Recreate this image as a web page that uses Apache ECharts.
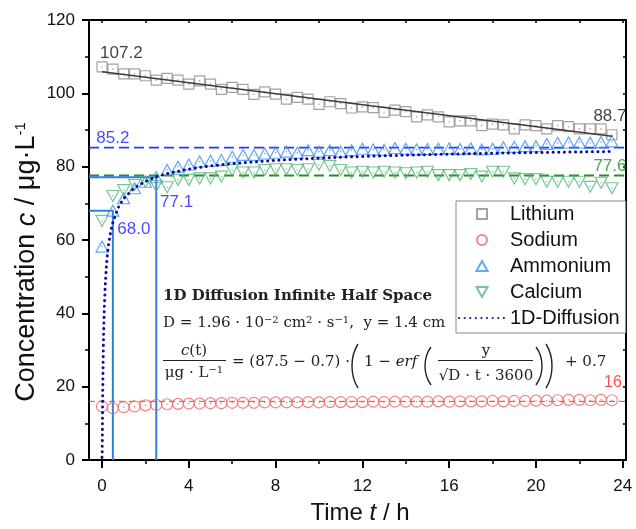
<!DOCTYPE html>
<html><head><meta charset="utf-8">
<script src="https://cdn.jsdelivr.net/npm/echarts@6/dist/echarts.min.js"></script>
<style>html,body{margin:0;padding:0;background:#fff}#c{width:636px;height:529px}</style>
</head><body><div id="c"></div>
<script>
// ---------- data ----------
const time = [0,0.5,1,1.5,2,2.5,3,3.5,4,4.5,5,5.5,6,6.5,7,7.5,8,8.5,9,9.5,10,10.5,11,11.5,
  12,12.5,13,13.5,14,14.5,15,15.5,16,16.5,17,17.5,18,18.5,19,19.5,20,20.5,21,21.5,22,22.5,23,23.5];
const lithium = [107.2,106.6,105.3,105.3,104.8,103.6,104.1,103.6,102.5,103.4,102.5,101.1,101.6,101.1,99.7,100.4,99.8,98.4,98.9,98.4,97.0,97.7,97.2,96.0,
  96.3,96.1,94.8,95.4,95.0,93.6,94.1,93.6,92.2,92.5,92.5,91.2,91.6,91.4,90.3,91.4,91.2,90.3,91.2,90.9,90.3,90.3,90.3,88.7];
const sodium = [14.6,14.1,14.4,14.6,14.9,15.0,15.2,15.3,15.4,15.4,15.5,15.5,15.6,15.6,15.6,15.7,15.7,15.7,15.7,15.8,15.7,15.8,15.8,15.8,
  15.8,15.9,15.8,15.9,15.9,15.9,15.9,16.0,15.9,16.0,16.0,16.0,16.1,16.0,16.1,16.1,16.2,16.2,16.3,16.4,16.4,16.3,16.4,16.3];
const ammonium = [58.2,68.0,71.4,74.1,75.9,77.1,79.1,80.0,80.6,81.4,81.6,81.8,82.7,83.2,83.2,83.6,83.8,84.1,83.8,84.5,84.1,84.5,84.1,84.5,
  84.9,84.7,84.6,85.1,84.9,84.7,84.8,84.9,85.0,84.8,85.0,84.7,84.9,85.3,85.4,85.6,85.6,86.2,86.5,86.6,86.6,86.5,86.7,86.9];
const calcium = [65.2,72.0,73.6,75.0,75.9,74.7,74.4,76.4,76.4,76.8,76.8,77.3,79.1,78.4,78.4,79.1,79.3,79.3,79.1,79.3,80.5,80.2,79.1,78.4,
  78.6,78.4,78.6,78.4,78.2,78.4,78.6,77.7,77.7,77.7,78.0,77.3,78.6,78.6,76.8,76.6,76.6,75.9,75.9,75.9,75.9,74.5,75.6,74.1];
const lithiumFitT = [0, 23.5];
const lithiumFitC = [105.9, 88.3];
const diffusionT = [0,0.005,0.01,0.015,0.02,0.03,0.04,0.05,0.075,0.1,0.15,0.2,0.25,0.3,0.4,0.5,0.75,1,1.5,2,2.5,3,4,5,6,8,10,12,14,16,18,20,22,23.5];
const diffusionC = [0.7,0.77,2.31,5.47,9.05,15.86,21.50,26.13,34.53,40.37,47.89,52.68,56.03,58.61,62.33,64.81,68.88,71.33,74.26,76.01,77.21,78.10,79.35,80.21,80.84,81.73,82.34,82.79,83.14,83.42,83.66,83.85,84.02,84.13];
const refAmmonium = 85.2, refCalcium = 77.6, refSodium = 16;
const markT = [0.5, 2.5];
const markC = [68.0, 77.1];
const xTicksMajor = [0,4,8,12,16,20,24];
const xTicksMinor = [2,6,10,14,18,22];
const xTicksTop = [0,2,4,6,8,10,12,14,16,18,20,22,24];
const annotText = ['107.2','88.7','85.2','77.6','68.0','77.1','16'];
const annotT = [0.89,23.41,0.50,23.41,1.47,3.44,23.55];
const annotC = [110.9,93.6,87.7,80.2,63.0,70.2,21.0];

// ---------- styles ----------
const xMin = -0.6, xMax = 24.15;
const SANS = '"Liberation Sans", Arial, sans-serif';
const SERIF = '"DejaVu Serif", serif';
const annotColor = ['#111','#111','#1a1aff','#1f8a1f','#1a1aff','#1a1aff','#ff2020'];
const annotSize = [17,17,17,17,17,17,16];
const SQ = 'path://M0,0 L10,0 L10,10 L0,10 Z';
const TRI_UP = 'path://M5,0 L10,9 L0,9 Z';
const TRI_DN = 'path://M0,0 L10,0 L5,9 Z';
const zip = (a,b) => a.map((v,i)=>[v,b[i]]);

const chart = echarts.init(document.getElementById('c'), null, {renderer:'canvas'});

function scatter(name, vals, symbol, size, color, z){
  return {name, type:'scatter', data: zip(time, vals), symbol, symbolSize:size,
    itemStyle:{color:'rgba(0,0,0,0)', borderColor:color, borderWidth:1.2}, z};
}
function dots(vals, color, z){
  return {type:'scatter', data: zip(time, vals), symbol:'circle', symbolSize:1.6, silent:true,
    itemStyle:{color}, z};
}
function hline(v, color, type, width){
  return {type:'line', data:[[xMin,v],[xMax,v]], symbol:'none', silent:true,
    lineStyle:{color, type, width}, z:3};
}
// thin math parenthesis drawn as a curve (left: dir=1, right: dir=-1)
function paren(x, top, bottom, dir){
  const w = 7, h = bottom - top;
  const outer = dir > 0 ? x + w : x;
  const inner = dir > 0 ? x - 1 : x + w + 1;
  return {type:'bezierCurve', z:10, shape:{x1:outer, y1:top, cpx1:inner, cpy1:top + h*0.28,
    cpx2:inner, cpy2:bottom - h*0.28, x2:outer, y2:bottom}, style:{stroke:'#222', lineWidth:1.4, fill:null}};
}

const option = {
  animation:false,
  grid:{left:89, top:20, width:537, height:440, containLabel:false},
  xAxis:[
    {type:'value', min:xMin, max:xMax, position:'bottom',
     axisLine:{show:true, onZero:false, lineStyle:{color:'#000', width:2}},
     axisTick:{show:true, customValues:xTicksMajor, length:8, lineStyle:{color:'#000', width:2}},
     axisLabel:{customValues:xTicksMajor, fontSize:17, fontFamily:SANS, color:'#111', margin:18},
     splitLine:{show:false}},
    {type:'value', min:xMin, max:xMax, position:'bottom',
     axisLine:{show:false, onZero:false},
     axisTick:{show:true, customValues:xTicksMinor, length:4, lineStyle:{color:'#000', width:1.5}},
     axisLabel:{show:false}, splitLine:{show:false}},
    {type:'value', min:xMin, max:xMax, position:'top',
     axisLine:{show:true, onZero:false, lineStyle:{color:'#000', width:2}},
     axisTick:{show:true, inside:true, customValues:xTicksTop, length:3, lineStyle:{color:'#000', width:1.5}},
     axisLabel:{show:false}, splitLine:{show:false}}
  ],
  yAxis:[
    {type:'value', min:0, max:120, interval:20, position:'left',
     axisLine:{show:true, onZero:false, lineStyle:{color:'#000', width:2}},
     axisTick:{show:true, length:7, lineStyle:{color:'#000', width:2}},
     minorTick:{show:true, splitNumber:2, length:4, lineStyle:{color:'#000', width:1.5}},
     axisLabel:{fontSize:17, fontFamily:SANS, color:'#111', margin:14},
     splitLine:{show:false}},
    {type:'value', min:0, max:120, interval:10, position:'right',
     axisLine:{show:true, onZero:false, lineStyle:{color:'#000', width:2}},
     axisTick:{show:true, inside:true, length:3, lineStyle:{color:'#000', width:1.5}},
     axisLabel:{show:false}, splitLine:{show:false}}
  ],
  legend:{
    data:['Lithium','Sodium','Ammonium','Calcium','1D-Diffusion'],
    orient:'vertical', left:456, top:201, padding:[3,6,5,2], itemGap:6,
    itemWidth:46, itemHeight:10, backgroundColor:'#fff',
    borderColor:'#8a8a8a', borderWidth:1, borderRadius:0,
    textStyle:{fontSize:20, fontFamily:SANS, color:'#111'}
  },
  series:[
    hline(refSodium, '#ee3b3b', [6,4], 1),
    hline(refCalcium, '#2b8a2b', [10,5], 2),
    hline(refAmmonium, '#1f3cff', [10,5], 1.6),
    {type:'line', data:[[xMin,markC[0]],[markT[0],markC[0]],[markT[0],0]], symbol:'none', silent:true,
     lineStyle:{color:'#2f7fe8', width:2}, z:3},
    {type:'line', data:[[xMin,markC[1]],[markT[1],markC[1]],[markT[1],0]], symbol:'none', silent:true,
     lineStyle:{color:'#2f7fe8', width:2}, z:3},
    scatter('Lithium', lithium, SQ, 10, '#8c8c8c', 4),
    scatter('Sodium', sodium, 'circle', 11, '#f06464', 4),
    scatter('Ammonium', ammonium, TRI_UP, [12,11], '#3f8ef0', 4),
    scatter('Calcium', calcium, TRI_DN, [12,11], '#55b878', 4),
    dots(lithium, '#8c8c8c', 4), dots(sodium, '#f06464', 4), dots(ammonium, '#3f8ef0', 4), dots(calcium, '#55b878', 4),
    {type:'line', data: zip(lithiumFitT, lithiumFitC), symbol:'none', silent:true,
     lineStyle:{color:'#3a3a3a', width:1.5}, z:5},
    {name:'1D-Diffusion', type:'line', data: zip(diffusionT, diffusionC), symbol:'none', showSymbol:false,
     itemStyle:{color:'#0b0b9c', opacity:0},
     lineStyle:{color:'#0b0b9c', width:3, type:[0.1,5.5], cap:'round'}, z:6},
    {type:'scatter', symbolSize:0, silent:true, z:7, clip:false,
     data: annotText.map((s,i)=>({value:[annotT[i], annotC[i]],
       label:{show:true, position:'inside', formatter:s, color:annotColor[i], fontSize:annotSize[i], fontFamily:SANS}}))}
  ],
  graphic:[
    {type:'text', x:27, y:262, rotation:Math.PI/2, style:{
      text:'Concentration {i|c} / μg·L{sup|-1}', align:'center', verticalAlign:'middle',
      font:'27px ' + SANS, fill:'#111',
      rich:{i:{fontStyle:'italic', fontSize:27, fontFamily:SANS}, sup:{fontSize:15, verticalAlign:'top', fontFamily:SANS}}}},
    {type:'text', x:360, y:513, style:{
      text:'Time {i|t} / h', align:'center', verticalAlign:'middle',
      font:'24px ' + SANS, fill:'#111',
      rich:{i:{fontStyle:'italic', fontSize:24, fontFamily:SANS}}}},
    // formula block
    {type:'text', x:163, y:296, z:10, style:{text:'1D Diffusion Infinite Half Space', verticalAlign:'middle',
      font:'bold 15px ' + SERIF, fill:'#222'}},
    {type:'text', x:163, y:323, z:10, style:{text:'D = 1.96 · 10{sup|−2} cm{sup|2} · s{sup|−1},  y = 1.4 cm', verticalAlign:'middle',
      font:'15px ' + SERIF, fill:'#222', rich:{sup:{fontSize:10, verticalAlign:'top', fontFamily:SERIF}}}},
    {type:'text', x:194, y:351, z:10, style:{text:'{i|c}(t)', align:'center', verticalAlign:'middle',
      font:'15px ' + SERIF, fill:'#222', rich:{i:{fontStyle:'italic', fontSize:15, fontFamily:SERIF}}}},
    {type:'line', z:10, shape:{x1:163, y1:360.5, x2:226, y2:360.5}, style:{stroke:'#222', lineWidth:1}},
    {type:'text', x:194, y:373, z:10, style:{text:'μg · L{sup|−1}', align:'center', verticalAlign:'middle',
      font:'15px ' + SERIF, fill:'#222', rich:{sup:{fontSize:10, verticalAlign:'top', fontFamily:SERIF}}}},
    {type:'text', x:232, y:362, z:10, style:{text:'= (87.5 − 0.7) ·', verticalAlign:'middle', font:'15px ' + SERIF, fill:'#222'}},
    paren(351, 344, 388, 1),
    {type:'text', x:364, y:362, z:10, style:{text:'1 − {i|erf}', verticalAlign:'middle', font:'15px ' + SERIF, fill:'#222',
      rich:{i:{fontStyle:'italic', fontSize:15, fontFamily:SERIF}}}},
    paren(424, 347, 385, 1),
    {type:'text', x:486, y:351, z:10, style:{text:'y', align:'center', verticalAlign:'middle', font:'15px ' + SERIF, fill:'#222'}},
    {type:'line', z:10, shape:{x1:438, y1:360.5, x2:533, y2:360.5}, style:{stroke:'#222', lineWidth:1}},
    {type:'text', x:486, y:376, z:10, style:{text:'√D · t · 3600', align:'center', verticalAlign:'middle', font:'15px ' + SERIF, fill:'#222'}},
    paren(536, 347, 385, -1),
    paren(546, 344, 388, -1),
    {type:'text', x:565, y:362, z:10, style:{text:'+ 0.7', verticalAlign:'middle', font:'15px ' + SERIF, fill:'#222'}}
  ]
};
chart.setOption(option);
</script></body></html>
